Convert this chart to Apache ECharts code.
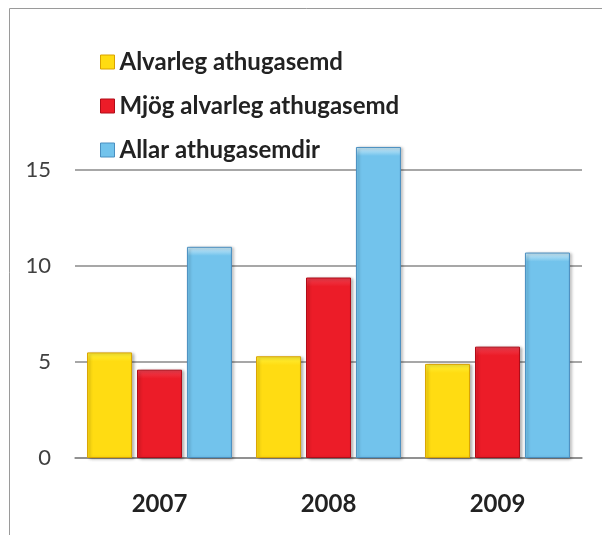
<!DOCTYPE html>
<html lang="is">

<head>
  <meta charset="UTF-8">
  <title>Athugasemdir</title>
  <style>
    html,
    body {
      margin: 0;
      padding: 0;
      overflow: hidden;
      background: #fff;
    }

    #chart {
      width: 602px;
      height: 535px;
    }
  </style>
</head>

<body>
  <div id="chart"></div>
</body>
<script src="https://cdn.jsdelivr.net/npm/echarts@6/dist/echarts.min.js"></script>
<script>
  // gögn
  const years = ['2007', '2008', '2009'];
  const seriesNames = ['Alvarleg athugasemd', 'Mjög alvarleg athugasemd', 'Allar athugasemdir'];
  const alvarleg = [5.5, 5.3, 4.9];
  const mjogAlvarleg = [4.6, 9.4, 5.8];
  const allar = [11.0, 16.2, 10.7];
  const yTicks = [0, 5, 10, 15];

  const myChart = echarts.init(document.querySelector('#chart'));

  const pxPerUnit = 288 / 15; // grid height / max
  const palette = [
    { top: '#FFF23A', main: '#FFDC12', edge: '#F2B800', border: '#D9A200' },
    { top: '#F04050', main: '#EC1C28', edge: '#D0101C', border: '#B00C18' },
    { top: '#D2EEFA', main: '#72C3EC', edge: '#5AAEDF', border: '#4A8FC0' }
  ];

  // lóðrétt litabrigði með ljósri brún efst
  function barColor(v, p) {
    const k = Math.min(0.5, 9 / (v * pxPerUnit));
    return new echarts.graphic.LinearGradient(0, 0, 0, 1, [
      { offset: 0, color: p.top },
      { offset: k, color: p.main },
      { offset: 1, color: p.main }
    ]);
  }

  function bar(name, data, i) {
    const p = palette[i];
    return {
      name: name,
      type: 'bar',
      data: data.map(v => ({ value: v, itemStyle: { color: barColor(v, p) } })),
      barWidth: 45,
      barGap: '11%',
      clip: false,
      itemStyle: {
        color: p.main,
        borderColor: p.border,
        borderWidth: 1,
        shadowBlur: 3,
        shadowOffsetX: 2,
        shadowOffsetY: 1,
        shadowColor: 'rgba(0,0,0,0.3)'
      }
    };
  }

  const option = {
    backgroundColor: '#fff',
    animation: false,
    textStyle: { fontFamily: 'Lato' },
    graphic: [{
      type: 'rect',
      shape: { x: 9.5, y: 8.5, width: 620, height: 560 },
      style: { fill: 'none', stroke: '#9a9a9a', lineWidth: 1 },
      silent: true
    }],
    legend: {
      orient: 'vertical',
      left: 95,
      top: 42,
      icon: 'rect',
      itemWidth: 14,
      itemHeight: 14,
      itemGap: 14,
      textStyle: {
        fontSize: 24,
        fontWeight: 'bold',
        color: '#222',
        lineHeight: 30
      },
      data: seriesNames.map((n, i) => ({ name: n, itemStyle: { color: palette[i].main, borderColor: palette[i].border, borderWidth: 1 } }))
    },
    grid: { left: 75, right: 20, top: 170, bottom: 77 },
    xAxis: {
      type: 'category',
      data: years,
      axisTick: { show: false },
      axisLine: { lineStyle: { color: '#8a8a8a', width: 1.5 } },
      axisLabel: {
        margin: 34,
        fontSize: 24,
        fontWeight: 'bold',
        color: '#222'
      }
    },
    yAxis: {
      type: 'value',
      min: yTicks[0],
      max: yTicks[yTicks.length - 1],
      interval: 5,
      axisLine: { show: false },
      axisTick: { show: false },
      axisLabel: { margin: 24, fontSize: 22, color: '#404040' },
      splitLine: { lineStyle: { color: '#8a8a8a', width: 1.5 } }
    },
    series: [
      bar(seriesNames[0], alvarleg, 0),
      bar(seriesNames[1], mjogAlvarleg, 1),
      bar(seriesNames[2], allar, 2)
    ]
  };

  myChart.setOption(option);
</script>

</html>
